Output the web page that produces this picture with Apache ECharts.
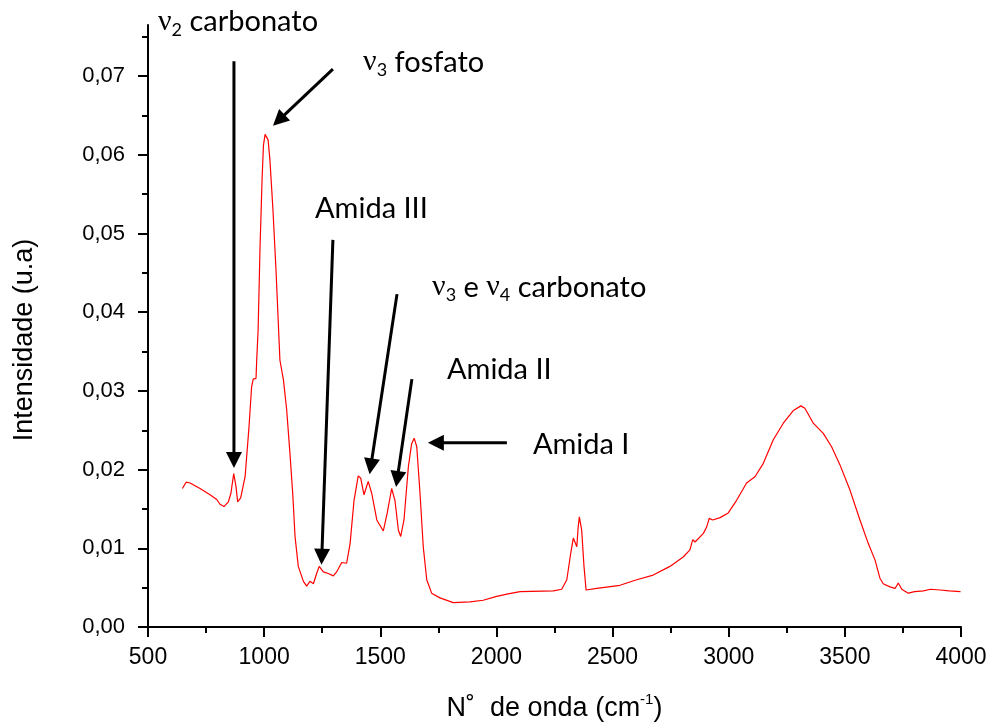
<!DOCTYPE html>
<html><head><meta charset="utf-8">
<script src="https://cdn.jsdelivr.net/npm/echarts@6/dist/echarts.min.js"></script>
<style>html,body{margin:0;padding:0;background:#fff}#c{width:991px;height:725px}</style>
</head><body><div id="c"></div>
<script>
const wavenumber = [648,664,681,724,767,796,810,827,846,857,869,879,886,899,918,935,946,953,965,968,974,982,991,997,1004,1010,1017,1025,1038,1051,1068,1083,1097,1111,1123,1133,1147,1169,1183,1197,1212,1226,1237,1255,1276,1284,1298,1312,1334,1355,1370,1387,1405,1416,1430,1448,1463,1485,1513,1530,1549,1563,1578,1588,1602,1621,1635,1646,1657,1671,1685,1700,1721,1757,1814,1886,1943,2001,2050,2102,2245,2281,2303,2320,2331,2338,2346,2352,2357,2367,2377,2386,2432,2532,2604,2675,2747,2804,2833,2845,2855,2891,2905,2916,2931,2963,2998,3034,3077,3113,3149,3192,3235,3278,3311,3328,3364,3407,3443,3479,3522,3565,3601,3630,3651,3665,3694,3716,3730,3745,3773,3800,3838,3870,3910,3950,3998];
const intensity = [0.0176,0.0184,0.0183,0.0176,0.0168,0.0162,0.0156,0.0153,0.0159,0.0170,0.0195,0.0178,0.0159,0.0164,0.0191,0.0255,0.0305,0.0315,0.0316,0.0339,0.0377,0.0479,0.0568,0.0612,0.0626,0.0628,0.0619,0.0593,0.0530,0.0454,0.0339,0.0314,0.0276,0.0221,0.0170,0.0115,0.0077,0.0058,0.0052,0.0058,0.0055,0.0068,0.0077,0.0070,0.0068,0.0070,0.0065,0.0070,0.0082,0.0081,0.0106,0.0161,0.0192,0.0189,0.0168,0.0185,0.0170,0.0136,0.0122,0.0145,0.0176,0.0161,0.0123,0.0115,0.0136,0.0204,0.0233,0.0240,0.0229,0.0170,0.0102,0.0060,0.0043,0.0037,0.0031,0.0032,0.0034,0.0039,0.0042,0.0045,0.0046,0.0048,0.0060,0.0094,0.0113,0.0115,0.0102,0.0127,0.0140,0.0123,0.0077,0.0047,0.0049,0.0053,0.0060,0.0066,0.0077,0.0089,0.0098,0.0111,0.0108,0.0119,0.0127,0.0138,0.0136,0.0139,0.0145,0.0161,0.0183,0.0191,0.0208,0.0238,0.0259,0.0275,0.0281,0.0278,0.0259,0.0246,0.0229,0.0206,0.0174,0.0136,0.0106,0.0085,0.0062,0.0055,0.0051,0.0049,0.0056,0.0048,0.0043,0.0045,0.0046,0.0048,0.0047,0.0046,0.0045];
const yMajorTicks = [0,0.01,0.02,0.03,0.04,0.05,0.06,0.07];
const yMinorTicks = [0.005,0.015,0.025,0.035,0.045,0.055,0.065,0.075];
const xMin = 500, xMax = 4000, xStep = 500;
const yMin = 0, yMax = 0.0765;
const xTitle = 'N˚  de onda (cm';
const xTitleSup = '-1';
const yTitle = 'Intensidade (u.a)';
// annotation arrows in data coordinates: [fromX, fromY], [tipX, tipY]
const arrowFrom = [[870,0.0719],[1296,0.0709],[1296,0.0492],[1572,0.0423],[1636,0.0315],[2045,0.0234]];
const arrowTip = [[870,0.0202],[1038,0.0637],[1247,0.0079],[1454,0.0194],[1568,0.0178],[1705,0.0234]];
// annotation labels: rich text and anchor (left, baseline) in data coordinates
const labelTexts = ['{nu|ν}{sub|2}{t| carbonato}','{nu|ν}{sub|3}{t| fosfato}','{t|Amida III}','{nu|ν}{sub|3}{t| e }{nu|ν}{sub|4}{t| carbonato}','{t|Amida II}','{t|Amida I}'];
const labelAnchors = [[543,0.0756],[1426,0.0705],[1219,0.0522],[1723,0.0419],[1787,0.0318],[2157,0.0222]];

const chart = echarts.init(document.getElementById('c'), null, {renderer:'canvas'});
const axisFont = "'Liberation Sans'";
const fmt = v => v.toFixed(2).replace('.', ',');
chart.setOption({
  animation:false,
  backgroundColor:'#fff',
  grid:{left:148,right:30,top:25,bottom:98,containLabel:false,outerBoundsMode:'none'},
  xAxis:{
    type:'value', min:xMin, max:xMax, interval:xStep,
    axisLine:{show:true,onZero:false,lineStyle:{color:'#000',width:2}},
    axisTick:{show:true,length:10,lineStyle:{color:'#000',width:2}},
    minorTick:{show:true,splitNumber:2,length:6,lineStyle:{color:'#000',width:2}},
    splitLine:{show:false},
    axisLabel:{color:'#000',fontSize:23,fontFamily:axisFont,margin:19,formatter:v=>String(v)},
    name:xTitle+'{sup|'+xTitleSup+'})', nameLocation:'middle', nameGap:65,
    nameTextStyle:{color:'#000',fontSize:27,fontFamily:axisFont,
      rich:{sup:{fontSize:15,fontFamily:axisFont,color:'#000',padding:[0,0,18,0]}}}
  },
  yAxis:[{
    type:'value', min:yMin, max:yMax, position:'left',
    axisLine:{show:true,onZero:false,lineStyle:{color:'#000',width:2}},
    axisTick:{show:true,length:10,customValues:yMajorTicks,lineStyle:{color:'#000',width:2}},
    splitLine:{show:false},
    axisLabel:{color:'#000',fontSize:22,fontFamily:axisFont,margin:23,customValues:yMajorTicks,formatter:fmt},
    name:yTitle, nameLocation:'middle', nameGap:110,
    nameTextStyle:{color:'#000',fontSize:27,fontFamily:axisFont,padding:[0,28,0,0]}
  },{
    type:'value', min:yMin, max:yMax, position:'left',
    axisLine:{show:false},
    axisTick:{show:true,length:6,customValues:yMinorTicks,lineStyle:{color:'#000',width:2}},
    axisLabel:{show:false},
    splitLine:{show:false}
  }],
  series:[{
    type:'line', xAxisIndex:0, yAxisIndex:0,
    data: wavenumber.map((w,i)=>[w,intensity[i]]),
    showSymbol:false, symbol:'none', smooth:false,
    lineStyle:{color:'#ff0000',width:1.2}
  }]
});

const annFont = 'Lato';
const rich = {
  nu:{fontSize:30,fontFamily:"'Liberation Serif'",color:'#000'},
  sub:{fontSize:18,fontFamily:annFont,color:'#000',padding:[16,0,0,0]},
  t:{fontSize:29,fontFamily:annFont,color:'#000'}
};
const graphics = [];
arrowFrom.forEach((f,i)=>{
  const p0 = chart.convertToPixel({gridIndex:0}, f);
  const p1 = chart.convertToPixel({gridIndex:0}, arrowTip[i]);
  const dx = p1[0]-p0[0], dy = p1[1]-p0[1];
  const L = Math.hypot(dx,dy); const ux = dx/L, uy = dy/L;
  const hl = 16, hw = 8;
  const bx = p1[0]-ux*hl, by = p1[1]-uy*hl;
  graphics.push({type:'line',shape:{x1:p0[0],y1:p0[1],x2:bx+ux*2,y2:by+uy*2},style:{stroke:'#000',lineWidth:3},z:100});
  graphics.push({type:'polygon',shape:{points:[[p1[0],p1[1]],[bx-uy*hw,by+ux*hw],[bx+uy*hw,by-ux*hw]]},style:{fill:'#000'},z:100});
});
labelTexts.forEach((t,i)=>{
  const p = chart.convertToPixel({gridIndex:0}, labelAnchors[i]);
  graphics.push({type:'text',x:p[0],y:p[1]+7,z:100,style:{text:t,rich:rich,align:'left',verticalAlign:'bottom',fill:'#000',fontSize:29,fontFamily:annFont}});
});
chart.setOption({graphic:graphics});
</script>
</body></html>
